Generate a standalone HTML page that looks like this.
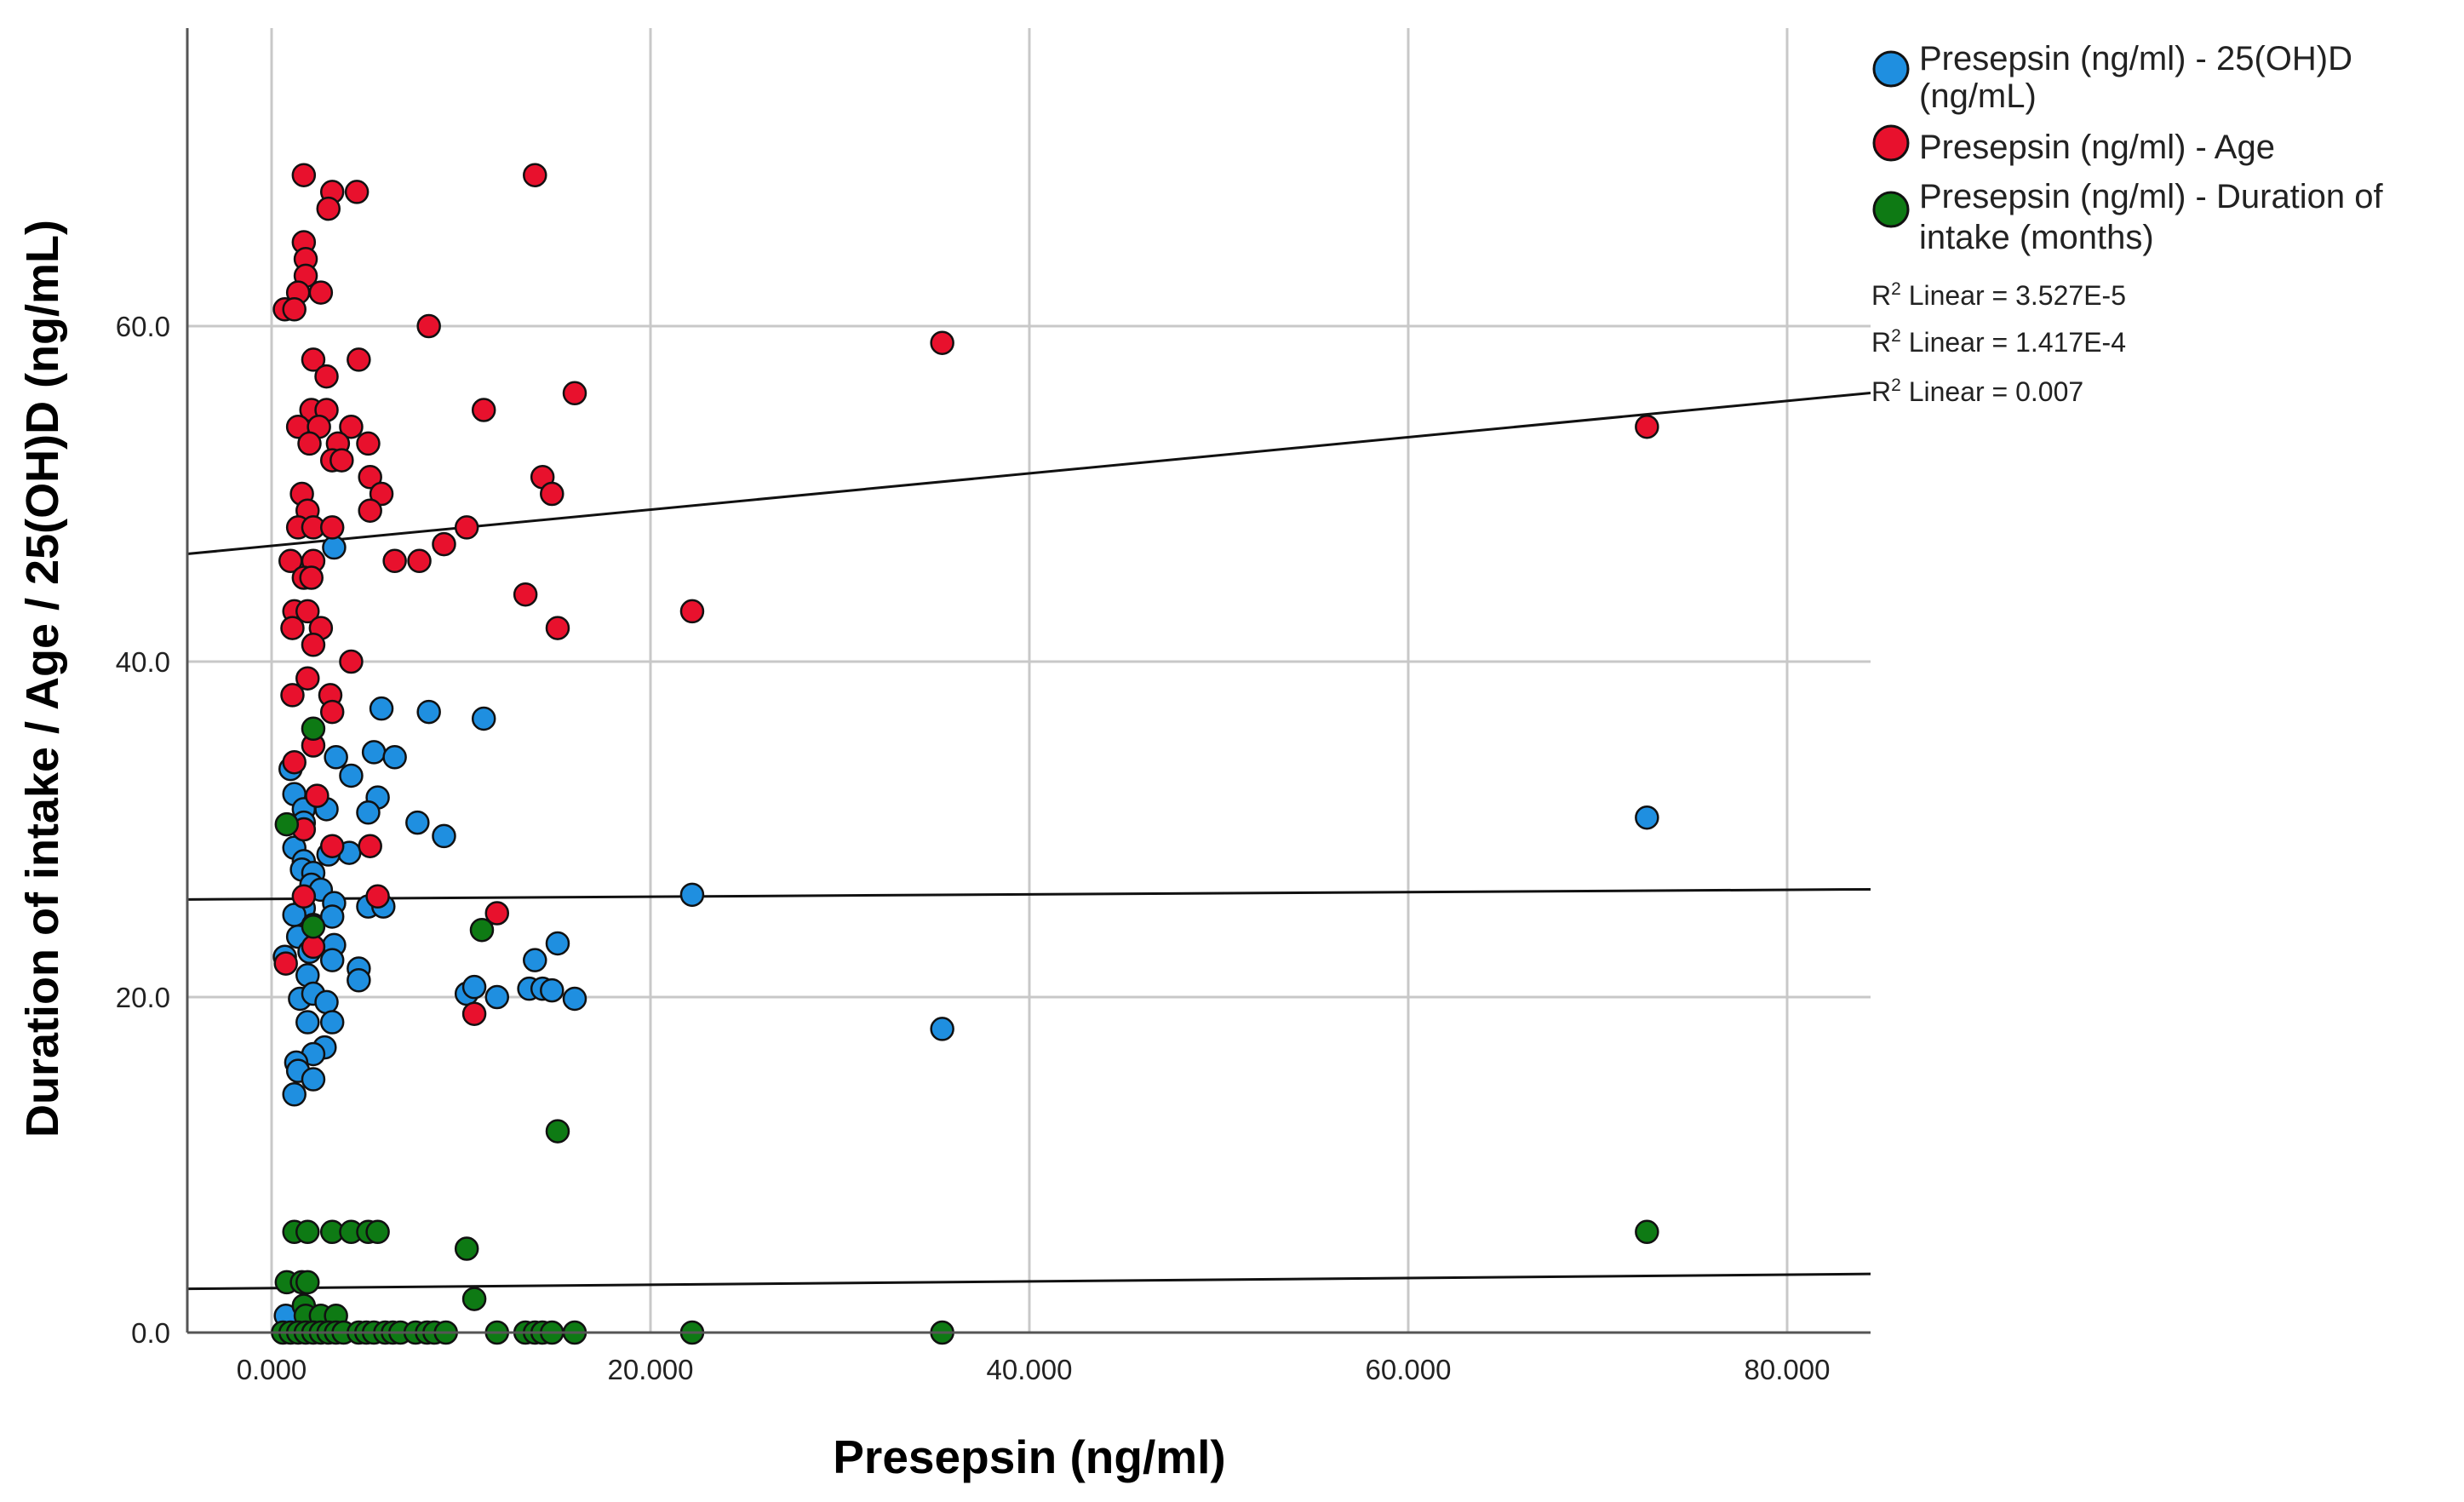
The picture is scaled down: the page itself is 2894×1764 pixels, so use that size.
<!DOCTYPE html>
<html><head><meta charset="utf-8"><style>
html,body{margin:0;padding:0;background:#fff}
svg{display:block;font-family:"Liberation Sans",Arial,sans-serif}
</style></head><body>
<svg id="chart" width="2894" height="1764" viewBox="0 0 2894 1764" xmlns="http://www.w3.org/2000/svg">
<g id="grid"></g>
<g id="fits"></g>
<g id="pts"></g>
<g id="axes"></g>
<text x="1209" y="1730" font-size="55" font-weight="bold" text-anchor="middle">Presepsin (ng/ml)</text>
<text transform="translate(68,797) rotate(-90)" font-size="54" font-weight="bold" text-anchor="middle">Duration of intake / Age / 25(OH)D (ng/mL)</text>
<g font-size="40" fill="#222">
<g>
<circle cx="2221" cy="81" r="20" fill="#1f8fe0" stroke="#111" stroke-width="3"/>
<text x="2254" y="82">Presepsin (ng/ml) - 25(OH)D</text>
<text x="2254" y="126">(ng/mL)</text></g>
<g>
<circle cx="2221" cy="168" r="20" fill="#e8112d" stroke="#111" stroke-width="3"/>
<text x="2254" y="186">Presepsin (ng/ml) - Age</text></g>
<g>
<circle cx="2221" cy="246" r="20" fill="#0e7a14" stroke="#111" stroke-width="3"/>
<text x="2254" y="244">Presepsin (ng/ml) - Duration of</text>
<text x="2254" y="292">intake (months)</text></g>
<g font-size="32">
<text x="2198" y="358">R<tspan font-size="21" dy="-12">2</tspan><tspan dy="12"> Linear = 3.527E-5</tspan></text>
<text x="2198" y="413">R<tspan font-size="21" dy="-12">2</tspan><tspan dy="12"> Linear = 1.417E-4</tspan></text>
<text x="2198" y="471">R<tspan font-size="21" dy="-12">2</tspan><tspan dy="12"> Linear = 0.007</tspan></text>
</g></g>
</svg>
<script>
const xTicks=[0,20000,40000,60000,80000];
const xTickLabels=["0.000","20.000","40.000","60.000","80.000"];
const yTicks=[0,20,40,60];
const yTickLabels=["0.0","20.0","40.0","60.0"];
const ageX=[1.7,3.2,4.5,3.0,13.9,1.7,1.8,1.8,1.4,2.6,0.7,1.2,8.3,35.4,2.2,4.6,2.9,16.0,2.1,2.9,11.2,1.4,2.5,4.2,72.6,2.0,3.5,5.1,3.2,3.7,14.3,5.2,1.6,5.8,14.8,5.2,1.9,1.4,2.2,3.2,10.3,9.1,1.0,2.2,6.5,7.8,1.7,2.1,13.4,1.2,1.9,22.2,1.1,2.6,15.1,2.2,4.2,1.9,3.1,1.1,3.2,1.2,2.2,2.4,1.7,3.2,5.2,5.6,1.7,11.9,2.2,0.75,10.7];
const ageY=[69,68,68,67,69,65,64,63,62,62,61,61,60,59,58,58,57,56,55,55,55,54,54,54,54,53,53,53,52,52,51,51,50,50,50,49,49,48,48,48,48,47,46,46,46,46,45,45,44,43,43,43,42,42,42,41,40,39,38,38,37,34,35,32,30,29,29,26,26,25,23,22,19];
const vitX=[3.3,5.8,8.3,11.2,3.4,5.4,6.5,1.0,4.2,1.2,5.6,2.9,5.1,7.7,9.1,1.7,1.7,1.2,4.1,3.0,1.7,1.6,2.2,2.1,2.6,22.2,1.7,5.1,5.9,3.3,1.2,2.2,3.2,1.4,15.1,3.3,2.0,3.2,13.9,0.7,4.6,4.6,1.9,1.5,2.2,10.3,10.7,11.9,13.6,14.3,14.8,16.0,2.9,3.2,1.9,35.4,2.8,2.2,1.3,1.4,2.2,1.2,72.6,0.75];
const vitY=[46.8,37.2,37,36.6,34.3,34.6,34.3,33.6,33.2,32.1,31.9,31.2,31,30.4,29.6,31.2,30.4,28.9,28.6,28.5,28.1,27.6,27.4,26.7,26.4,26.1,25.3,25.4,25.4,25.6,24.9,24.3,24.8,23.6,23.2,23.1,22.7,22.2,22.2,22.4,21.7,21.0,21.3,19.9,20.2,20.2,20.6,20.0,20.5,20.5,20.4,19.9,19.7,18.5,18.5,18.1,17.0,16.6,16.1,15.6,15.1,14.2,30.7,1];
const durX=[2.2,0.8,2.2,11.1,15.1,72.6,1.2,1.9,3.2,4.2,5.1,5.6,10.3,0.8,1.6,1.9,10.7,1.7,1.8,2.6,3.4,0.6,1.0,1.4,1.8,2.2,2.6,3.0,3.4,3.8,4.6,5.0,5.4,6.0,6.4,6.8,7.6,8.2,8.6,9.2,11.9,13.4,13.9,14.3,14.8,16.0,22.2,35.4];
const durY=[36,30.3,24.2,24,12,6,6,6,6,6,6,6,5,3,3,3,2,1.6,1,1,1,0,0,0,0,0,0,0,0,0,0,0,0,0,0,0,0,0,0,0,0,0,0,0,0,0,0,0];
const fitIntercepts=[25.85,46.9,2.65];
const fitSlopes=[0.0068,0.108,0.010];
const NS="http://www.w3.org/2000/svg";
const X0=319,PX20K=445,Y0=1565,PY1=19.7,L=220,R=2197,T=33;
function sx(v){return X0+v/20000*PX20K;}
function sy(v){return Y0-v*PY1;}
function mk(tag,attrs,parent){const e=document.createElementNS(NS,tag);for(const k in attrs)e.setAttribute(k,attrs[k]);parent.appendChild(e);return e;}
const grid=document.getElementById('grid'),axes=document.getElementById('axes'),pts=document.getElementById('pts'),fits=document.getElementById('fits');
xTicks.forEach((t,i)=>{
 const g=mk('line',{x1:sx(t),x2:sx(t),y1:T,y2:Y0,stroke:'#c8c8c8','stroke-width':3},grid);
 
 
 const lb=mk('text',{x:sx(t),y:1620,'font-size':33,'text-anchor':'middle',fill:'#222'},axes);
 lb.textContent=xTickLabels[i];
 
 
});
yTicks.forEach((t,i)=>{
 if(t>0){const g=mk('line',{x1:L,x2:R,y1:sy(t),y2:sy(t),stroke:'#c8c8c8','stroke-width':3},grid);
 
 }
 const lb=mk('text',{x:200,y:sy(t)+12,'font-size':33,'text-anchor':'end',fill:'#222'},axes);
 lb.textContent=yTickLabels[i];
 
 
});
const ax1=mk('line',{x1:L,x2:L,y1:T,y2:Y0,stroke:'#555','stroke-width':3},axes);


const ax2=mk('line',{x1:L,x2:R,y1:Y0,y2:Y0,stroke:'#555','stroke-width':3},axes);


function series(xs,ys,color,name){
 xs.forEach((x,i)=>{
  const c=mk('circle',{cx:sx(x*1000),cy:sy(ys[i]),r:13,fill:color,stroke:'#111','stroke-width':2.5},pts);
  
  
 });
}
series(vitX,vitY,'#1f8fe0','point-25ohd');
series(ageX,ageY,'#e8112d','point-age');
series(durX,durY,'#0e7a14','point-duration');
const xMinD=(L-X0)/PX20K*20000,xMaxD=(R-X0)/PX20K*20000;
const fitNames=['fit-line-25ohd','fit-line-age','fit-line-duration'];
fitIntercepts.forEach((b,i)=>{
 const m=fitSlopes[i]/1000;
 const ln=mk('line',{x1:L,x2:R,y1:sy(b+m*xMinD),y2:sy(b+m*xMaxD),stroke:'#111','stroke-width':3},fits);
 
 
});
</script>
</body></html>
